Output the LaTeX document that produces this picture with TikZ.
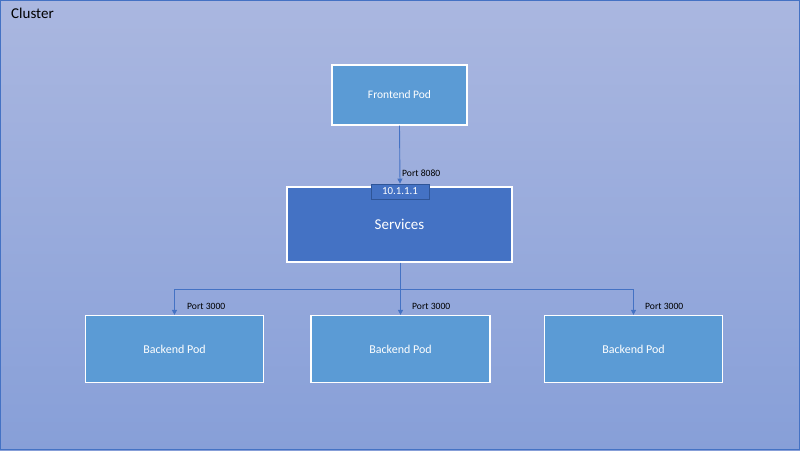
\documentclass[tikz,border=0pt]{standalone}
\usepackage{fontspec}
\setmainfont{Carlito}
\usetikzlibrary{arrows.meta}
\definecolor{bgtop}{RGB}{170,183,224}
\definecolor{bgbot}{RGB}{135,159,216}
\definecolor{podblue}{RGB}{91,155,213}
\definecolor{svcblue}{RGB}{68,114,196}
\definecolor{ipborder}{RGB}{47,85,151}
\definecolor{linkblue}{RGB}{68,114,196}
\tikzset{
  podbox/.style={rectangle, draw=white, line width=1.3pt, fill=podblue, text=white, inner sep=0pt, font=\fontsize{11.5}{13}\selectfont},
  svcbox/.style={rectangle, draw=white, line width=1.3pt, fill=svcblue, text=white, inner sep=0pt, font=\fontsize{15}{17}\selectfont},
  ipbox/.style={rectangle, draw=ipborder, line width=0.8pt, fill=svcblue, text=white, inner sep=0pt, font=\fontsize{10.8}{12}\selectfont},
  portlabel/.style={anchor=west, inner sep=0pt, font=\fontsize{9.6}{11}\selectfont},
  link/.style={draw=linkblue, line width=0.9pt},
  linkarrow/.style={link, -{Triangle[length=5pt,width=5pt]}}
}
\begin{document}
\begin{tikzpicture}[x=1pt,y=-1pt]
\useasboundingbox (0,0) rectangle (800,450);
\shade[top color=bgtop, bottom color=bgbot] (0,0) rectangle (800,450);
\draw[draw=svcblue, line width=1.2pt] (0.6,0.6) rectangle (799.4,449.4);
\node[anchor=west, inner sep=0pt, font=\fontsize{15}{17}\selectfont] (cl) at (11,13) {Cluster};

\node[podbox, minimum width=135pt, minimum height=60pt] (fe) at (399.5,95) {Frontend Pod};
\node[svcbox, minimum width=225pt, minimum height=75pt] (svc) at (399.5,224.5) {Services};
\node[ipbox, minimum width=58pt, minimum height=15pt] (ip) at (400,191.5) {10.1.1.1};

\node[podbox, font=\fontsize{12}{14}\selectfont, minimum width=178pt, minimum height=67pt] (b1) at (174.5,349) {Backend Pod};
\node[podbox, font=\fontsize{12}{14}\selectfont, minimum width=179pt, minimum height=67pt] (b2) at (400.5,349) {Backend Pod};
\node[podbox, font=\fontsize{12}{14}\selectfont, minimum width=178pt, minimum height=67pt] (b3) at (633.5,349) {Backend Pod};

\draw[linkarrow] (fe.south) -- (ip.north);
\node[portlabel] (p0) at (402,173) {Port 8080};

\coordinate (j) at (400.5,289);
\draw[link] (svc.south -| j) -- (j);
\draw[linkarrow] (j) -| (b1.north);
\draw[linkarrow] (j) -- (b2.north);
\draw[linkarrow] (j) -| (b3.north);

\node[portlabel] (p1) at (187,306) {Port 3000};
\node[portlabel] (p2) at (412,306) {Port 3000};
\node[portlabel] (p3) at (645,306) {Port 3000};
\end{tikzpicture}
\end{document}
